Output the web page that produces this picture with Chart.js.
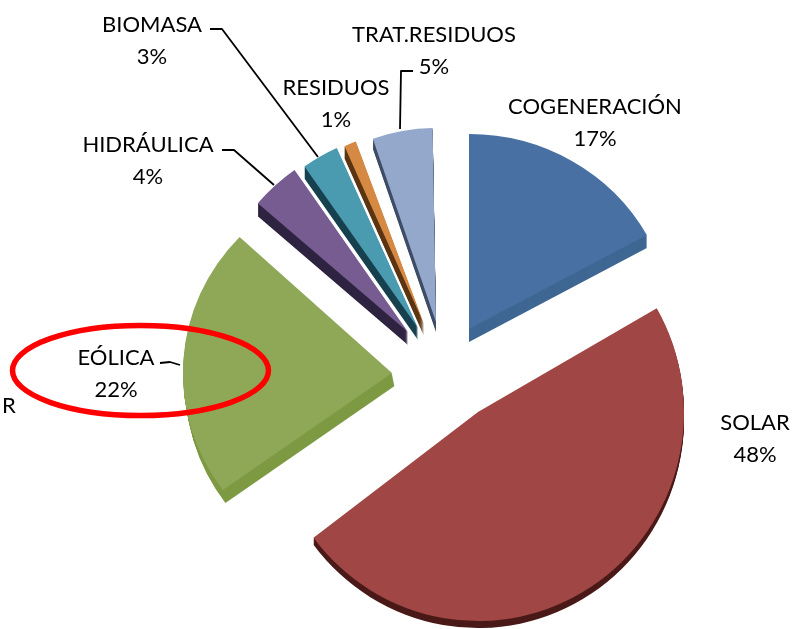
<!DOCTYPE html>
<html>
<head>
<meta charset="utf-8">
<style>html,body{margin:0;padding:0;background:#fff;}canvas{display:block;}</style>
<script src="https://cdn.jsdelivr.net/npm/chart.js@4"></script>
</head>
<body>
<canvas id="c" width="794" height="629"></canvas>
<script>
const categories = ['COGENERACIÓN','SOLAR','EÓLICA','HIDRÁULICA','BIOMASA','RESIDUOS','TRAT.RESIDUOS'];
const shares = [17,48,22,4,3,1,5];
const faceColors = ['#4870a3','#a04644','#8fa858','#775c92','#4a9ab0','#d68942','#94a8cb'];
const rimColors = ['#3f6793','#4a1a18','#7d9a43','#2e2340','#17414f','#5c3512','#3f4e66'];
// explosion and perspective of each slice (style, not data)
const sliceShiftX = [28,37,-49,-33,-23,-17,-5];
const sliceShiftY = [-48,35,-4,-45,-49,-53,-55];
const sliceScaleX = [.99,1.005,1.02,.965,.963,.95,.946];
const sliceScaleY = [.951,1.02,.97,.965,.963,.95,.946];
const sliceTilt = [0,-1,0,-2.6,-2.7,-2.5,-1];
const rimDepth = [13,7,13,13,12,12,10];
const rimSlant = [0,0,.2,0,0,0,0];
// label anchors: centre x, first baseline y
const labelX = [595,755,116,148,152,336,434];
const labelY = [114,430,365,152,32,95,42];
const leaders = [
  [[413,71],[401,71],[400,129]],
  [[210,29],[222,29],[318,157]],
  [[222,150],[234,150],[274,185]],
  [[160,363],[170,362],[180,365]]
];

const explodedPie = {
  id:'explodedPie',
  beforeDatasetDraw(chart,args){
    const ctx = chart.ctx, meta = args.meta;
    meta.data.forEach((arc,i)=>{
      const x = arc.x, y = arc.y, base = arc.options;
      const place = (d)=>{
        ctx.save();
        ctx.translate(x+sliceShiftX[i]+d*rimSlant[i], y+sliceShiftY[i]+d);
        ctx.rotate(sliceTilt[i]*Math.PI/180);
        ctx.scale(sliceScaleX[i], sliceScaleY[i]);
        ctx.translate(-x,-y);
      };
      arc.options = Object.assign({},base,{backgroundColor:rimColors[i],borderWidth:0});
      for(let d=rimDepth[i]; d>=1; d--){ place(d); arc.draw(ctx); ctx.restore(); }
      arc.options = Object.assign({},base,{backgroundColor:faceColors[i],borderWidth:0});
      place(0); arc.draw(ctx); ctx.restore();
      arc.options = base;
    });
    return false;
  },
  afterDatasetsDraw(chart){
    const ctx = chart.ctx;
    ctx.save();
    ctx.strokeStyle='#000'; ctx.lineWidth=1.8; ctx.lineJoin='round';
    leaders.forEach(l=>{
      ctx.beginPath();
      l.forEach((p,k)=> k?ctx.lineTo(p[0],p[1]):ctx.moveTo(p[0],p[1]));
      ctx.stroke();
    });
    ctx.fillStyle='#000'; ctx.font='22px Lato'; ctx.textAlign='center'; ctx.textBaseline='alphabetic';
    categories.forEach((name,i)=>{
      ctx.fillText(name,labelX[i],labelY[i]);
      ctx.fillText(shares[i]+'%',labelX[i],labelY[i]+31.5);
    });
    ctx.textAlign='left';
    ctx.fillText('R',2,413);
    ctx.strokeStyle='#ff0000'; ctx.lineWidth=5.5;
    ctx.beginPath(); ctx.ellipse(140.5,370.5,128,45,0,0,Math.PI*2); ctx.stroke();
    ctx.restore();
  }
};

new Chart(document.getElementById('c'),{
  type:'pie',
  data:{labels:categories,datasets:[{data:shares,backgroundColor:faceColors,borderWidth:0}]},
  options:{
    responsive:false,animation:false,events:[],
    layout:{padding:{left:236,right:148,top:172,bottom:47}},
    plugins:{legend:{display:false},tooltip:{enabled:false},title:{display:false}}
  },
  plugins:[explodedPie]
});
</script>
</body>
</html>
